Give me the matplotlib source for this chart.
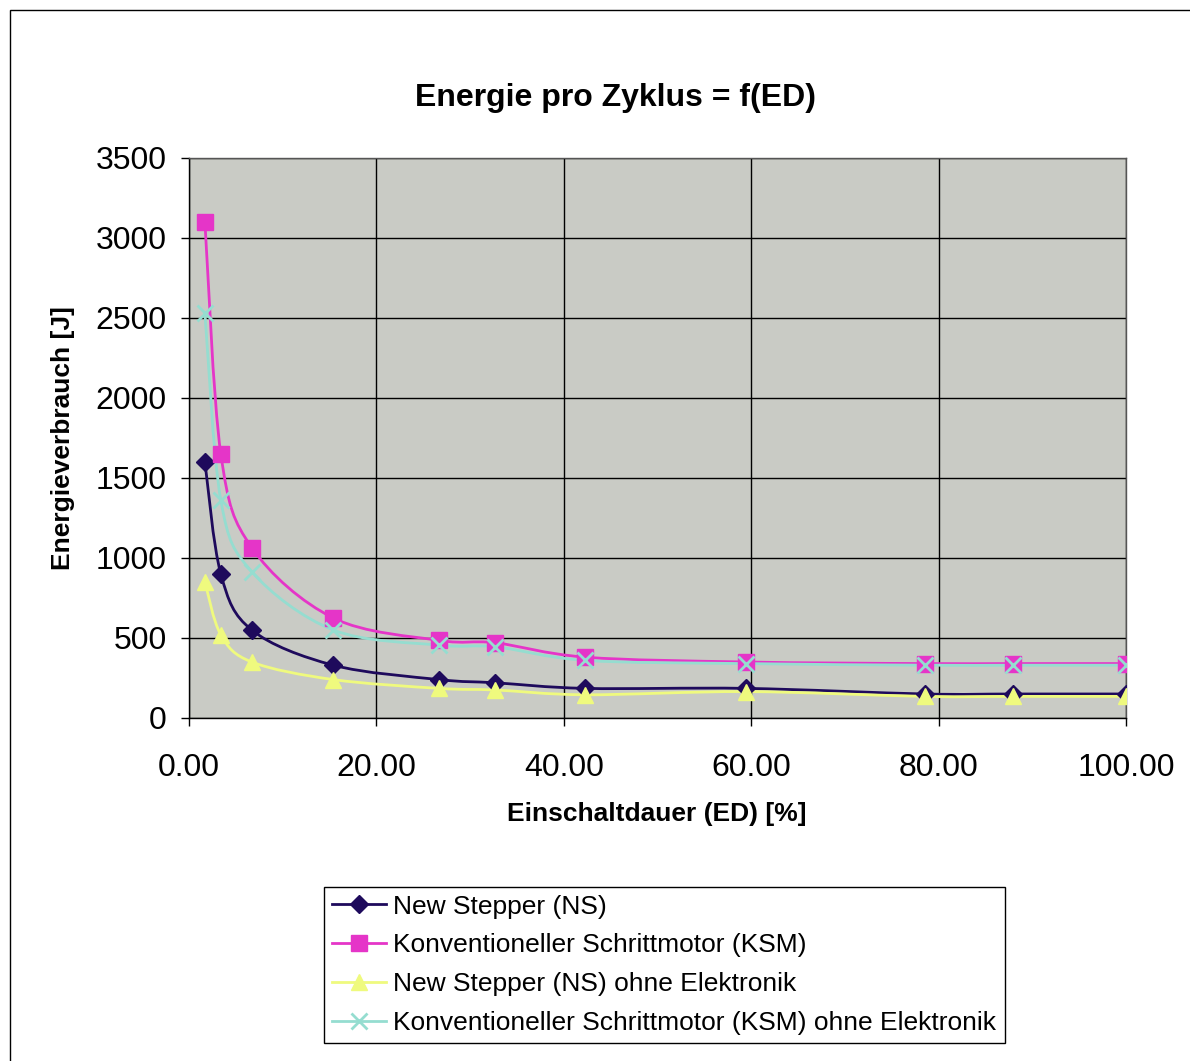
import matplotlib
matplotlib.use("Agg")
import matplotlib.pyplot as plt
from matplotlib.path import Path
from matplotlib.patches import PathPatch, Rectangle
from matplotlib.lines import Line2D

plt.rcParams['font.family'] = ['Liberation Sans', 'DejaVu Sans']

# ---------------- data ----------------
ed = [1.7, 3.4, 6.7, 15.4, 26.7, 32.7, 42.3, 59.4, 78.5, 87.9, 100.0]

ns = [1600, 900, 550, 330, 240, 220, 185, 185, 150, 150, 150]
ksm = [3100, 1650, 1065, 625, 485, 470, 380, 350, 340, 340, 340]
ns_ohne = [850, 520, 350, 240, 185, 175, 145, 165, 135, 135, 135]
ksm_ohne = [2530, 1360, 915, 550, 455, 445, 360, 340, 330, 330, 330]

series = [
    ("New Stepper (NS)", ns, "#1e0a5c", "D", 9),
    ("Konventioneller Schrittmotor (KSM)", ksm, "#e535c8", "s", 11),
    ("New Stepper (NS) ohne Elektronik", ns_ohne, "#effa7e", "^", 11),
    ("Konventioneller Schrittmotor (KSM) ohne Elektronik", ksm_ohne, "#95ddd0", "x", 11),
]


def smooth_path(xs, ys, t=1/6):
    # cubic bezier through the points, Catmull-Rom style tangents
    verts = [(xs[0], ys[0])]
    codes = [Path.MOVETO]
    n = len(xs)
    for i in range(n - 1):
        x0, y0 = (xs[i - 1], ys[i - 1]) if i > 0 else (xs[i], ys[i])
        x1, y1 = xs[i], ys[i]
        x2, y2 = xs[i + 1], ys[i + 1]
        x3, y3 = (xs[i + 2], ys[i + 2]) if i + 2 < n else (x2, y2)
        c1 = (x1 + (x2 - x0) * t, y1 + (y2 - y0) * t)
        c2 = (x2 - (x3 - x1) * t, y2 - (y3 - y1) * t)
        verts += [c1, c2, (x2, y2)]
        codes += [Path.CURVE4] * 3
    return Path(verts, codes)


fig = plt.figure(figsize=(11.9, 10.61), dpi=100)
fig.patches.append(Rectangle((10 / 1190, -0.01), 1.1, 1 - 10 / 1061 + 0.01,
                             transform=fig.transFigure, fill=False,
                             edgecolor="black", linewidth=1))

ax = fig.add_axes([0.1588, 0.3233, 0.7874, 0.5278])
ax.set_facecolor("#c9cbc5")

for label, ys, color, marker, ms in series:
    ax.add_patch(PathPatch(smooth_path(ed, ys), fill=False, edgecolor=color,
                           linewidth=2, zorder=3))
    ax.plot(ed, ys, linestyle="none", marker=marker, markersize=ms,
            color=color, markeredgecolor=color,
            markeredgewidth=2 if marker == "x" else 1, zorder=4)

ax.set_xlim(0, 100)
ax.set_ylim(0, 3500)
ax.set_xticks(range(0, 101, 20))
ax.set_xticklabels([f"{v:.2f}" for v in range(0, 101, 20)])
ax.set_yticks(range(0, 3501, 500))
ax.grid(True, color="black", linewidth=1)
ax.set_axisbelow(True)
ax.tick_params(labelsize=23, direction="out", length=6, width=1)
ax.tick_params(axis="y", pad=10)
ax.tick_params(axis="x", pad=19)
for s in ax.spines.values():
    s.set_color("#555555")
    s.set_linewidth(1)
ax.spines["left"].set_color("black")
ax.spines["bottom"].set_color("black")

fig.text(615 / 1190, 1 - 98 / 1061, "Energie pro Zyklus = f(ED)", fontsize=23,
         fontweight="bold", ha="center", va="center")
fig.text(657 / 1190, 1 - 814 / 1061, "Einschaltdauer (ED) [%]", fontsize=19,
         fontweight="bold", ha="center", va="center")
fig.text(63 / 1190, 1 - 438 / 1061, "Energieverbrauch [J]", fontsize=19,
         fontweight="bold", ha="center", va="center", rotation=90)

handles = [Line2D([], [], color=c, marker=m, markersize=ms, linewidth=2,
                  markeredgecolor=c, markeredgewidth=2 if m == "x" else 1)
           for _, _, c, m, ms in series]
leg = fig.legend(handles, [s[0] for s in series], loc="lower left",
                 bbox_to_anchor=(0.2723, 0.017, 0.572, 0.148), mode="expand",
                 fontsize=19, frameon=True, fancybox=False, framealpha=1,
                 edgecolor="black", handlelength=2.05, handletextpad=0.25,
                 labelspacing=0.56, borderpad=0.3, borderaxespad=0)
leg.get_frame().set_linewidth(1)

fig.savefig("out.png", dpi=100)
